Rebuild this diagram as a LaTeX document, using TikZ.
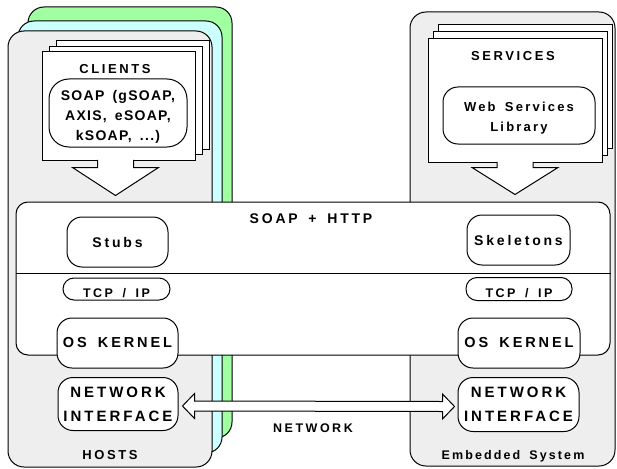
\documentclass[tikz,border=0pt]{standalone}
\usepackage{fontspec}
\usepackage{tikz}
\usetikzlibrary{positioning, calc}
\newfontfamily\diagfont{Liberation Sans Bold}[LetterSpace=20, WordSpace=1.6]

\definecolor{hostgray}{RGB}{238,238,238}
\definecolor{hostcyan}{RGB}{204,255,255}
\definecolor{hostgreen}{RGB}{160,255,160}

\begin{document}
\begin{tikzpicture}[
  x=1pt, y=-1pt,
  line width=1pt,
  every node/.style={font=\diagfont\fontsize{13}{20}\selectfont, inner sep=0pt},
  lbl/.style={font=\diagfont\fontsize{#1}{20}\selectfont},
  lbltight/.style={font=\diagfont\addfontfeatures{LetterSpace=9}\fontsize{#1}{20}\selectfont},
  lblmid/.style={font=\diagfont\addfontfeatures{LetterSpace=17}\fontsize{#1}{20}\selectfont},
  hostbox/.style={rectangle, draw, rounded corners=16pt, fill=hostgray},
  page/.style={rectangle, draw, fill=white},
  lib/.style={rectangle, draw, fill=white, rounded corners=15pt, align=center},
  pill/.style={rectangle, draw, fill=white, rounded corners=11pt},
  layer/.style={rectangle, draw, fill=white, rounded corners=12pt},
  blockarrow/.style={draw, fill=white, line join=miter}
]
  \useasboundingbox (0,0) rectangle (617,468);

  % host machines, stacked
  \node[hostbox, fill=hostgreen, minimum width=204, minimum height=431] (host3) at (130,222.5) {};
  \node[hostbox, fill=hostcyan, minimum width=204, minimum height=432] (host2) at (120,237) {};
  \node[hostbox, minimum width=204, minimum height=436] (host1) at (110,249) {};
  \node[hostbox, minimum width=205, minimum height=454] (embedded) at (512.5,239) {};

  % client pages
  \node[page, minimum width=153, minimum height=108] (clients3) at (132.5,95) {};
  \node[page, minimum width=153, minimum height=108] (clients2) at (125.5,100.5) {};
  \node[page, minimum width=153, minimum height=108] (clients) at (118.5,106) {};
  \node[lbl=13] (clientstitle) at (115,69) {CLIENTS};
  \node[lib, rounded corners=20pt, minimum width=138, minimum height=68,
    label={[lbltight=14, align=center, yshift=-4pt]center:SOAP (gSOAP,\\AXIS, eSOAP,\\kSOAP, ...)}]
    (soap) at (118,113) {};

  % service pages
  \node[page, minimum width=174, minimum height=123] (services3) at (525,86.5) {};
  \node[page, minimum width=174, minimum height=123] (services2) at (520,93.5) {};
  \node[page, minimum width=174, minimum height=123] (services) at (515,100.5) {};
  \node[lbl=13] (servicestitle) at (513,56) {SERVICES};
  \node[lib, minimum width=152, minimum height=57,
    label={[lblmid=13, align=center, yshift=-3pt]center:Web Services\\Library}]
    (wslib) at (519,115.5) {};

  % block arrows into the protocol layer
  \coordinate (ca) at ($(clients.south)+(-3,0)$);
  \draw[blockarrow] ($(ca)+(-18,-0.6)$) -- ++(0,7.6) -- ++(-25,0) -- ($(ca)+(0,35)$)
    -- ($(ca)+(43,7)$) -- ++(-25,0) -- ++(0,-7.6);
  \coordinate (sa) at (services.south);
  \draw[blockarrow] ($(sa)+(-18,-0.6)$) -- ++(0,5.6) -- ++(-25,0) -- ($(sa)+(0,32)$)
    -- ($(sa)+(43,5)$) -- ++(-25,0) -- ++(0,-5.6);

  % protocol layer
  \node[layer, minimum width=594, minimum height=153] (soaplayer) at (313,278.5) {};
  \draw (soaplayer.west |- 0,273) coordinate (divl) -- (soaplayer.east |- 0,273) coordinate (divr);
  \node[lbl=14] (soaphttp) at (311,219) {SOAP + HTTP};

  \node[lib, lbl=14, minimum width=101, minimum height=50] (stubs) at (117.5,242) {Stubs};
  \node[lib, lbl=14, minimum width=103, minimum height=50] (skel) at (518.5,240) {Skeletons};
  \node[pill, minimum width=107, minimum height=22,
    label={[lbl=12.5, yshift=-4pt]center:TCP / IP}] (tcpl) at (116.5,289) {};
  \node[pill, minimum width=106, minimum height=23,
    label={[lbl=12.5, yshift=-4pt]center:TCP / IP}] (tcpr) at (519,289) {};
  \node[lib, lbl=14.5, minimum width=121, minimum height=50] (oskl) at (117.5,343) {OS KERNEL};
  \node[lib, lbl=14.5, minimum width=122, minimum height=50] (oskr) at (519,343) {OS KERNEL};
  \node[lib, lbl=15, minimum width=120, minimum height=53] (nil) at (118,404) {NETWORK\\[4pt]INTERFACE};
  \node[lib, lbl=15, minimum width=121, minimum height=54] (nir) at (518.5,404.5) {NETWORK\\[4pt]INTERFACE};

  % network link
  \coordinate (netl) at ($(nil.east)+(4,2)$);
  \coordinate (netr) at ($(nir.west)+(-3,2)$);
  \draw[blockarrow] (netl) -- ++(12,-12.5) -- ++(0,7.5) -- ($(netr)+(-12,-5)$) -- ++(0,-7.5)
    -- (netr) -- ++(-12,12.5) -- ++(0,-7.5) -- ($(netl)+(12,5)$) -- ++(0,7.5) -- cycle;
  \node[lbl=12.5] (network) at (313,428) {NETWORK};

  \node[lbl=13] (hosts) at (110,455) {HOSTS};
  \node[lblmid=12.5] (embtitle) at (513,456) {Embedded System};
\end{tikzpicture}
\end{document}
